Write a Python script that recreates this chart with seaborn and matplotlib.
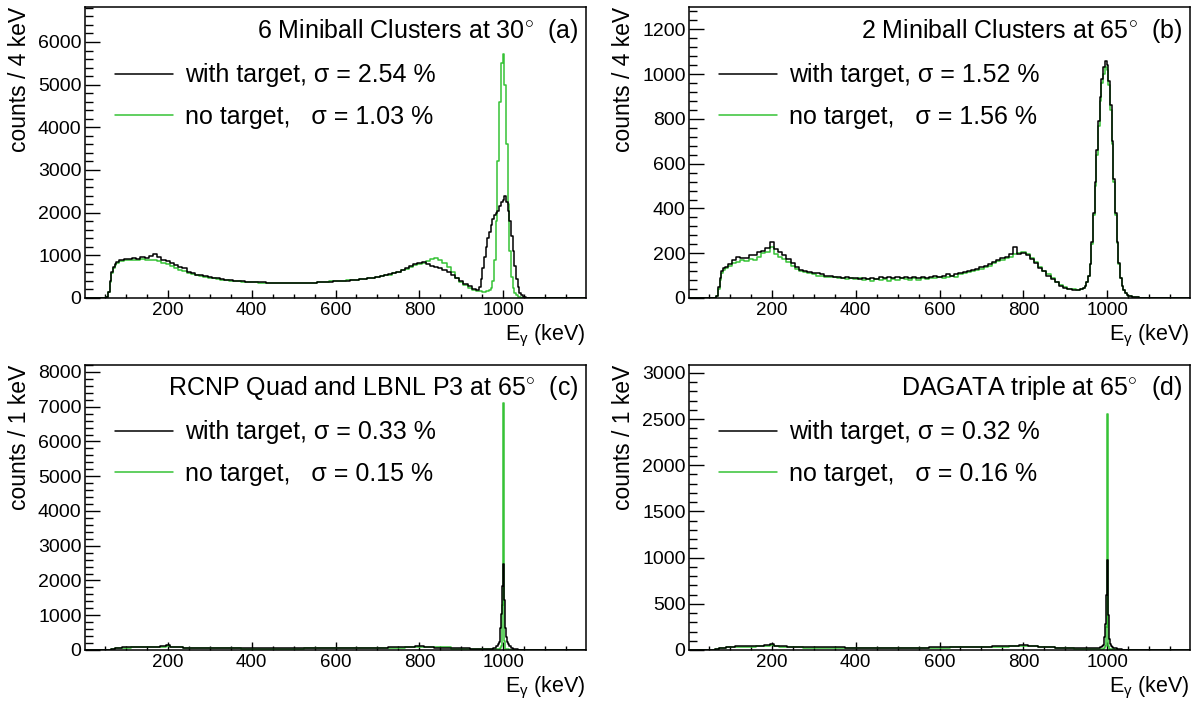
import numpy as np
import pandas as pd
import matplotlib
matplotlib.use("Agg")
import matplotlib.pyplot as plt
from matplotlib.lines import Line2D
from matplotlib.ticker import MultipleLocator
import seaborn as sns

# --- values -------------------------------------------------------------------
# (a) 6 Miniball Clusters at 30 deg, counts / 4 keV
E_A = [0, 50, 56, 60, 64, 68, 72, 76, 80, 90, 100, 110, 120, 130, 140, 150, 160,
       170, 180, 190, 200, 210, 220, 230, 240, 250, 260, 270, 280, 290, 300, 310,
       320, 330, 340, 350, 360, 370, 380, 390, 400, 410, 420, 430, 440, 450, 460,
       470, 480, 490, 500, 510, 520, 530, 540, 550, 560, 570, 580, 590, 600, 610,
       620, 630, 640, 650, 660, 670, 680, 690, 700, 710, 720, 730, 740, 750, 760,
       770, 780, 790, 800, 810, 820, 830, 840, 850, 860, 870, 880, 890, 900, 910,
       920, 930, 940, 944, 948, 952, 956, 960, 964, 968, 972, 976, 980, 984, 988,
       992, 996, 1000, 1004, 1008, 1012, 1016, 1020, 1024, 1028, 1032, 1036, 1040,
       1044, 1048, 1052, 1056, 1060, 1070, 1200]
A_WITH = [0, 0, 20, 150, 400, 600, 720, 800, 840, 880, 920, 910, 930, 920, 950,
          940, 980, 1030, 950, 900, 870, 830, 780, 720, 700, 620, 580, 550, 530,
          510, 490, 470, 460, 450, 430, 420, 410, 400, 390, 385, 380, 375, 370,
          365, 360, 360, 355, 350, 355, 340, 350, 345, 350, 355, 350, 360, 365,
          370, 375, 380, 390, 400, 405, 410, 420, 430, 440, 450, 460, 470, 490,
          510, 530, 560, 590, 620, 660, 700, 740, 790, 830, 840, 790, 760, 730,
          700, 660, 600, 540, 470, 400, 330, 270, 220, 190, 260, 450, 700, 950,
          1200, 1400, 1550, 1700, 1850, 1950, 2000, 2050, 2150, 2250, 2300, 2380,
          2250, 2050, 1800, 1450, 1100, 750, 450, 250, 120, 60, 30, 15, 6, 2, 0, 0]
A_NO = [0, 0, 20, 150, 380, 580, 700, 780, 820, 860, 880, 900, 890, 900, 910,
        900, 890, 900, 860, 820, 790, 750, 700, 660, 630, 590, 560, 530, 510, 490,
        470, 460, 440, 430, 420, 410, 400, 390, 380, 375, 370, 365, 360, 360, 355,
        355, 350, 345, 350, 345, 350, 355, 350, 355, 360, 360, 365, 370, 380, 390,
        395, 400, 410, 415, 425, 430, 440, 450, 460, 470, 490, 510, 530, 550, 580,
        610, 650, 690, 730, 780, 800, 830, 870, 920, 940, 900, 820, 720, 600, 480,
        380, 300, 240, 190, 165, 160, 155, 150, 150, 155, 160, 180, 240, 400, 900,
        1800, 3200, 4600, 5500, 5720, 5000, 3600, 2200, 1100, 500, 230, 110, 60,
        30, 15, 8, 4, 2, 0, 0, 0, 0]

# (b) 2 Miniball Clusters at 65 deg, counts / 4 keV
E_B = [0, 60, 66, 70, 74, 78, 82, 86, 90, 100, 110, 120, 130, 140, 150, 160, 170,
       180, 190, 200, 210, 220, 230, 240, 250, 260, 270, 280, 290, 300, 310, 320,
       330, 340, 350, 360, 370, 380, 390, 400, 410, 420, 430, 440, 450, 460, 470,
       480, 490, 500, 510, 520, 530, 540, 550, 560, 570, 580, 590, 600, 610, 620,
       630, 640, 650, 660, 670, 680, 690, 700, 710, 720, 730, 740, 750, 760, 770,
       780, 790, 800, 810, 820, 830, 840, 850, 860, 870, 880, 890, 900, 910, 920,
       930, 940, 944, 948, 952, 956, 960, 964, 968, 972, 976, 980, 984, 988, 992,
       996, 1000, 1004, 1008, 1012, 1016, 1020, 1024, 1028, 1032, 1036, 1040, 1044,
       1048, 1052, 1056, 1060, 1070, 1080, 1090, 1200]
B_WITH = [0, 0, 0, 10, 50, 90, 120, 135, 140, 150, 170, 185, 180, 180, 190, 190,
          205, 210, 225, 250, 220, 205, 190, 175, 155, 140, 125, 120, 115, 110,
          110, 105, 100, 100, 95, 95, 90, 95, 88, 90, 85, 90, 85, 90, 85, 92, 88,
          95, 90, 92, 88, 95, 90, 92, 88, 95, 90, 95, 100, 95, 100, 105, 100, 105,
          110, 115, 120, 125, 130, 140, 145, 150, 160, 170, 180, 185, 195, 230,
          195, 200, 190, 175, 155, 135, 120, 100, 85, 70, 55, 45, 40, 37, 37, 40,
          45, 55, 70, 100, 150, 250, 380, 520, 660, 790, 900, 980, 1030, 1060,
          1040, 970, 860, 700, 530, 380, 250, 155, 90, 55, 35, 22, 15, 10, 7, 5, 3,
          1, 0, 0]
B_NO = [0, 0, 0, 10, 40, 80, 110, 125, 135, 145, 155, 160, 170, 165, 175, 170,
        185, 200, 205, 230, 195, 185, 175, 160, 145, 130, 120, 115, 110, 105, 100,
        100, 95, 92, 95, 90, 88, 85, 90, 85, 88, 80, 85, 78, 85, 80, 85, 75, 85,
        82, 90, 85, 80, 88, 82, 90, 85, 90, 88, 95, 90, 95, 100, 95, 105, 110, 115,
        120, 125, 130, 140, 145, 155, 165, 170, 180, 185, 195, 200, 205, 195, 180,
        160, 140, 120, 105, 88, 70, 58, 48, 42, 38, 36, 40, 45, 55, 70, 100, 150,
        240, 370, 500, 640, 770, 880, 960, 1000, 1030, 1020, 950, 840, 690, 520,
        370, 245, 150, 90, 55, 35, 22, 15, 10, 7, 5, 3, 1, 0, 0]

# (c) RCNP Quad and LBNL P3 / (d) DAGATA triple, counts / 1 keV
E_CD = [0, 60, 70, 80, 100, 125, 150, 175, 190, 200, 210, 225, 250, 300, 350, 400,
        450, 500, 550, 600, 650, 700, 750, 780, 800, 820, 850, 900, 940, 960, 970,
        980, 985, 988, 990, 992, 994, 996, 997, 998, 999, 1000, 1001, 1002, 1003,
        1004, 1006, 1008, 1010, 1012, 1015, 1020, 1025, 1030, 1040, 1060, 1080,
        1200]
C_WITH = [0, 0, 20, 60, 80, 85, 90, 100, 110, 150, 100, 85, 70, 55, 50, 45, 45,
          45, 50, 50, 55, 65, 80, 95, 110, 95, 70, 45, 30, 30, 40, 70, 110, 170,
          240, 380, 620, 1050, 1400, 1850, 2250, 2480, 2300, 1900, 1450, 1100, 620,
          380, 240, 170, 110, 60, 40, 25, 10, 5, 0, 0]
C_NO = [0, 0, 15, 50, 70, 75, 80, 85, 90, 110, 85, 75, 60, 50, 45, 40, 40, 40,
        45, 45, 50, 55, 70, 80, 90, 95, 75, 40, 20, 15, 15, 15, 18, 20, 25, 30, 45,
        120, 400, 1300, 4550, 7100, 2800, 800, 250, 100, 40, 25, 20, 15, 12, 10, 8,
        6, 4, 2, 0, 0]
D_WITH = [0, 0, 10, 25, 35, 38, 40, 45, 50, 65, 45, 40, 35, 30, 28, 25, 25, 25,
          25, 28, 30, 35, 40, 45, 50, 45, 35, 25, 18, 18, 20, 25, 32, 40, 50, 80,
          140, 280, 420, 600, 800, 970, 780, 560, 380, 250, 120, 70, 45, 35, 25,
          18, 12, 8, 5, 2, 0, 0]
D_NO = [0, 0, 8, 20, 30, 32, 35, 38, 42, 50, 40, 35, 30, 25, 25, 22, 22, 22, 22,
        25, 28, 30, 35, 40, 45, 42, 32, 20, 12, 10, 10, 10, 10, 12, 12, 15, 20, 40,
        80, 250, 1680, 2550, 500, 100, 40, 20, 12, 10, 8, 8, 6, 5, 4, 3, 2, 1, 0, 0]

TITLES = ["6 Miniball Clusters at 30$^{\\circ}$  (a)",
          "2 Miniball Clusters at 65$^{\\circ}$  (b)",
          "RCNP Quad and LBNL P3 at 65$^{\\circ}$  (c)",
          "DAGATA triple at 65$^{\\circ}$  (d)"]
SIGMA_WITH = ["2.54", "1.52", "0.33", "0.32"]
SIGMA_NO = ["1.03", "1.56", "0.15", "0.16"]
YLABELS = ["counts / 4 keV", "counts / 4 keV", "counts / 1 keV", "counts / 1 keV"]
YMAX = [6820, 1300, 8200, 3085]
YMAJOR = [1000, 200, 1000, 500]
YMINOR = [200, 40, 200, 100]

SPECTRA = [(E_A, A_WITH, A_NO), (E_B, B_WITH, B_NO),
           (E_CD, C_WITH, C_NO), (E_CD, D_WITH, D_NO)]

# --- style --------------------------------------------------------------------
sns.set_theme(style="white")
plt.rcParams.update({
    "font.family": ["Liberation Sans", "DejaVu Sans"],
    "mathtext.fontset": "custom",
    "mathtext.rm": "Liberation Sans",
    "mathtext.it": "Liberation Sans:italic",
    "axes.linewidth": 1.1,
    "axes.edgecolor": "black",
    "text.color": "black",
    "axes.labelcolor": "black",
    "xtick.color": "black",
    "ytick.color": "black",
})
PAL = {"with target": "black", "no target": "#36c236"}

fig = plt.figure(figsize=(11.99, 7.02), dpi=100)
W, H = 1199, 702
# frames in pixels: left, top, width, height
RECTS = [(85, 7, 501, 291), (689, 7, 501, 291),
         (85, 365, 501, 285), (689, 365, 501, 285)]

for i, (x0, y0, w, h) in enumerate(RECTS):
    ax = fig.add_axes([x0 / W, 1 - (y0 + h) / H, w / W, h / H])
    energy, with_t, no_t = SPECTRA[i]
    df = pd.DataFrame({
        "E": list(energy) * 2,
        "counts": list(no_t) + list(with_t),
        "sample": ["no target"] * len(energy) + ["with target"] * len(energy),
    })
    sns.lineplot(data=df, x="E", y="counts", hue="sample",
                 hue_order=["no target", "with target"], palette=PAL,
                 estimator=None, sort=False, drawstyle="steps-mid",
                 linewidth=1.1, legend=False, ax=ax)

    ax.set_xlim(3, 1197)
    ax.set_ylim(0, YMAX[i])
    ax.xaxis.set_major_locator(MultipleLocator(200))
    ax.xaxis.set_minor_locator(MultipleLocator(50))
    ax.yaxis.set_major_locator(MultipleLocator(YMAJOR[i]))
    ax.yaxis.set_minor_locator(MultipleLocator(YMINOR[i]))
    ax.tick_params(axis="x", which="major", direction="in", length=5.5,
                   width=1, labelsize=13.5, pad=3, top=False, bottom=True)
    ax.tick_params(axis="x", which="minor", direction="in", length=2.9,
                   width=1, top=False, bottom=True)
    ax.tick_params(axis="y", which="major", direction="in", length=10.8,
                   width=1, labelsize=14, pad=2.5, left=True, right=False)
    ax.tick_params(axis="y", which="minor", direction="in", length=5.5,
                   width=1, left=True, right=False)

    ax.set_ylabel(YLABELS[i], fontsize=16.5, loc="top")
    ax.yaxis.set_label_coords(-0.108, 1.0)
    ax.set_xlabel("E$_{\\mathrm{γ}}$ (keV)", fontsize=15.5, loc="right")
    ax.xaxis.set_label_coords(1.0, -25 / h)

    ax.text(0.984, 0.918, TITLES[i], transform=ax.transAxes,
            ha="right", va="center", fontsize=18)

    handles = [Line2D([], [], color=PAL["with target"], lw=1.1),
               Line2D([], [], color=PAL["no target"], lw=1.1)]
    labels = [f"with target, σ = {SIGMA_WITH[i]} %",
              f"no target,   σ = {SIGMA_NO[i]} %"]
    ax.legend(handles, labels, loc="upper left", bbox_to_anchor=(0.06, 0.806),
              frameon=False, fontsize=18, borderpad=0, borderaxespad=0,
              handlelength=2.3, handletextpad=0.48, labelspacing=0.69)

fig.savefig("out.png", dpi=100, facecolor="white")
